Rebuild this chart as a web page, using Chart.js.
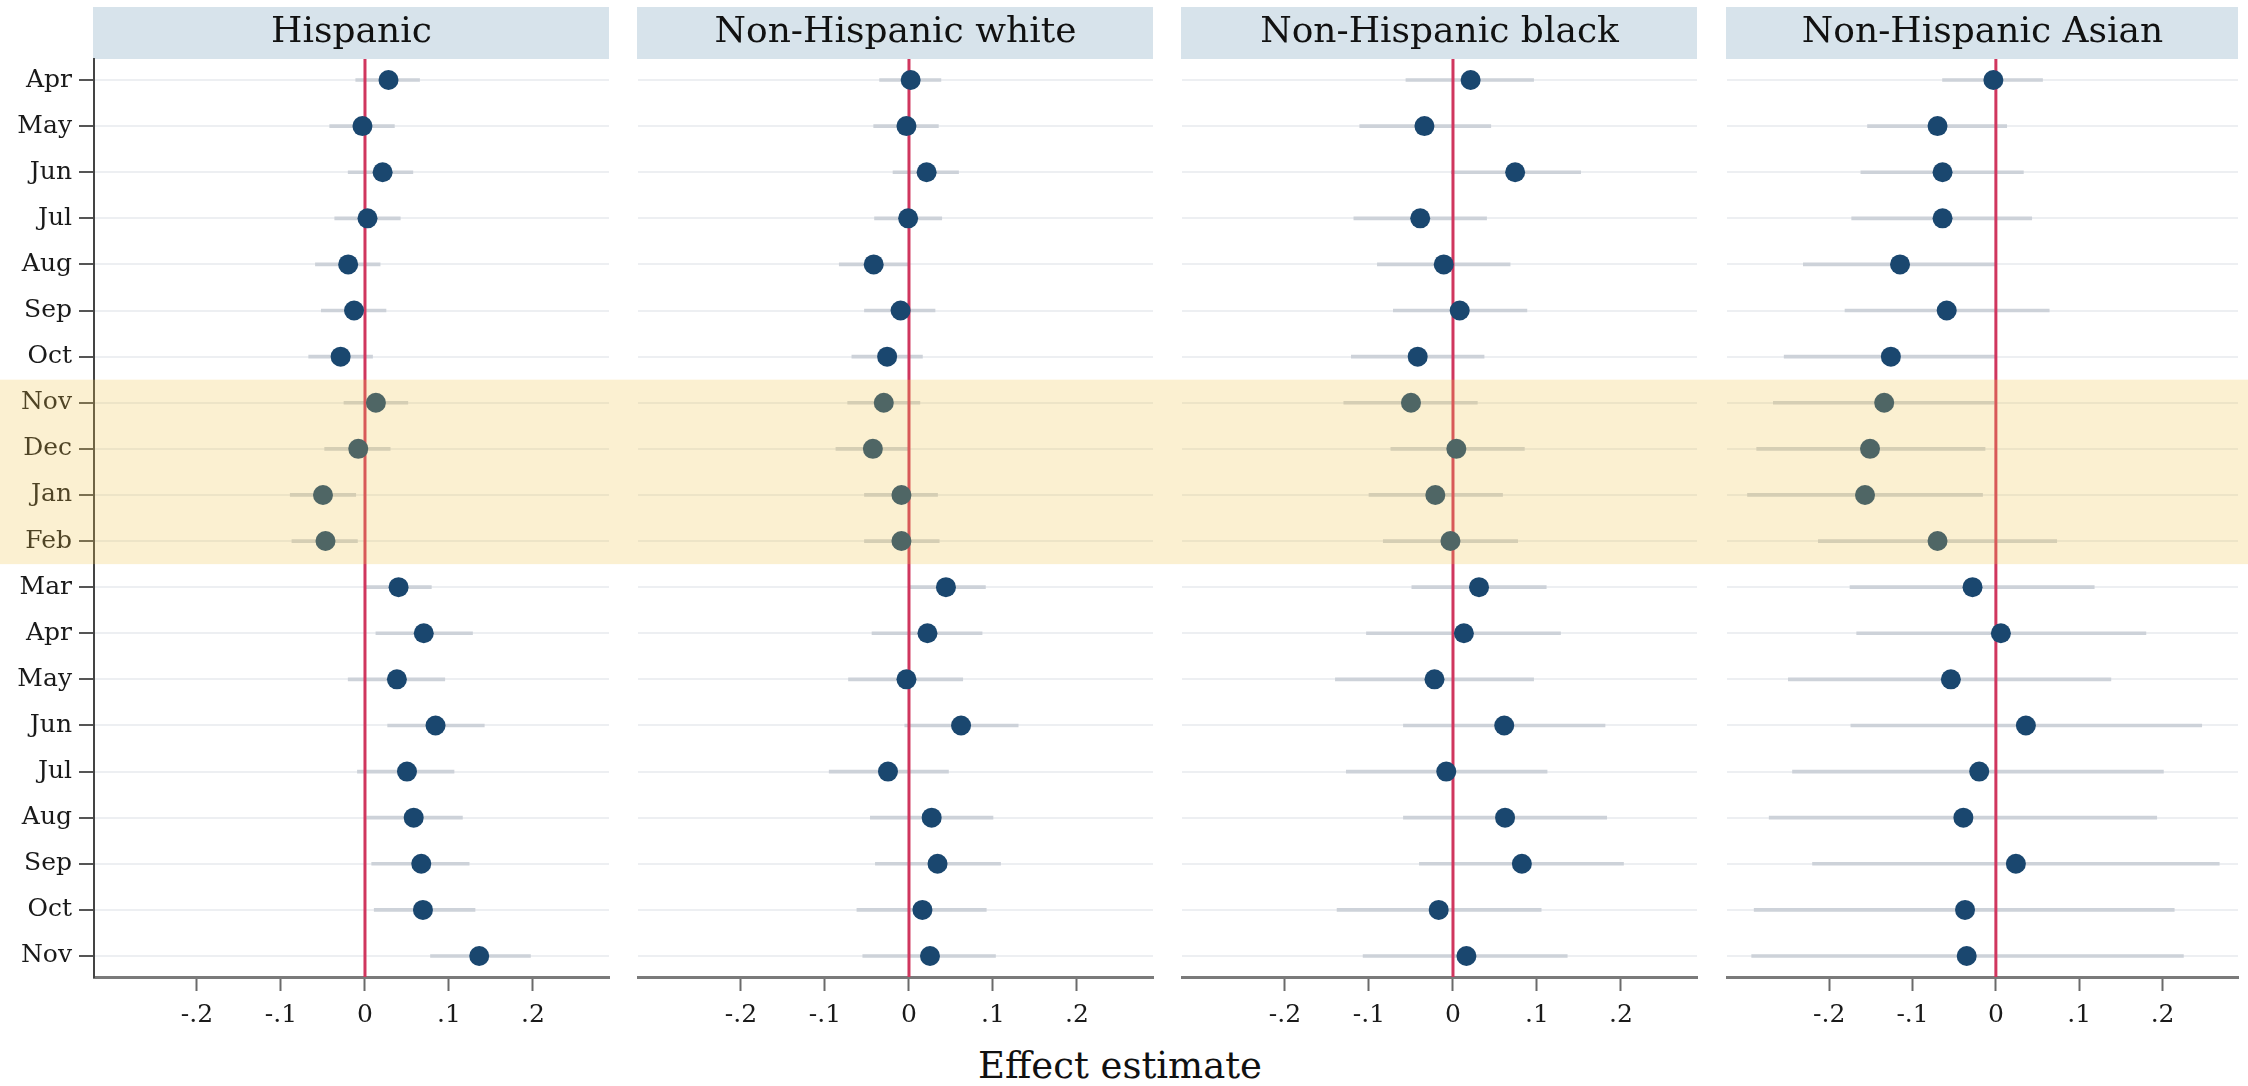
<!DOCTYPE html>
<html>
<head>
<meta charset="utf-8">
<script src="https://cdn.jsdelivr.net/npm/chart.js@4.4.1/dist/chart.umd.min.js"></script>
<style>
  body { margin: 0; background: #fff; width: 2248px; height: 1086px; overflow: hidden; position: relative; font-family: 'DejaVu Serif', serif; }
  canvas { position: absolute; top: 0; }
  #xtitle { position: absolute; left: 0; width: 2240px; top: 1043px; text-align: center; font-size: 37px; line-height: 46px; color: #111; }
</style>
</head>
<body>
<div id="xtitle">Effect estimate</div>
<script>
// months shown on the y axis (top to bottom)
const months = ['Apr','May','Jun','Jul','Aug','Sep','Oct','Nov','Dec','Jan','Feb','Mar','Apr','May','Jun','Jul','Aug','Sep','Oct','Nov'];
const groups = ['Hispanic', 'Non-Hispanic white', 'Non-Hispanic black', 'Non-Hispanic Asian'];

// shaded months (Nov..Feb)
const shadeFrom = 7;
const shadeTo = 10;

// x axis ticks
const xTickVals = [-0.2, -0.1, 0, 0.1, 0.2];
const xTickLabels = ['-.2', '-.1', '0', '.1', '.2'];

// Hispanic
const hispEst = [0.028, -0.003, 0.021, 0.003, -0.020, -0.013, -0.029, 0.013, -0.008, -0.050, -0.047, 0.040, 0.070, 0.038, 0.084, 0.050, 0.058, 0.067, 0.069, 0.136];
const hispLo  = [-0.011, -0.042, -0.020, -0.036, -0.059, -0.052, -0.067, -0.025, -0.048, -0.089, -0.087, 0.001, 0.013, -0.020, 0.027, -0.009, 0.002, 0.008, 0.011, 0.078];
const hispHi  = [0.065, 0.035, 0.057, 0.042, 0.018, 0.025, 0.009, 0.051, 0.030, -0.011, -0.009, 0.079, 0.128, 0.095, 0.142, 0.106, 0.116, 0.124, 0.131, 0.197];

// Non-Hispanic white
const whiteEst = [0.002, -0.003, 0.021, -0.001, -0.042, -0.010, -0.026, -0.030, -0.043, -0.009, -0.009, 0.044, 0.022, -0.003, 0.062, -0.025, 0.027, 0.034, 0.016, 0.025];
const whiteLo  = [-0.035, -0.042, -0.019, -0.041, -0.083, -0.053, -0.068, -0.073, -0.087, -0.053, -0.053, 0.000, -0.044, -0.072, -0.005, -0.095, -0.046, -0.040, -0.062, -0.055];
const whiteHi  = [0.038, 0.035, 0.059, 0.039, -0.001, 0.031, 0.016, 0.013, 0.000, 0.034, 0.036, 0.091, 0.087, 0.064, 0.130, 0.047, 0.100, 0.109, 0.092, 0.103];

// Non-Hispanic black
const blackEst = [0.021, -0.034, 0.074, -0.039, -0.011, 0.008, -0.042, -0.050, 0.004, -0.021, -0.003, 0.031, 0.013, -0.022, 0.061, -0.008, 0.062, 0.082, -0.017, 0.016];
const blackLo  = [-0.056, -0.111, -0.002, -0.118, -0.090, -0.071, -0.121, -0.130, -0.074, -0.100, -0.083, -0.049, -0.103, -0.140, -0.059, -0.127, -0.059, -0.040, -0.138, -0.107];
const blackHi  = [0.096, 0.045, 0.152, 0.040, 0.068, 0.088, 0.037, 0.029, 0.085, 0.059, 0.077, 0.111, 0.128, 0.096, 0.181, 0.112, 0.183, 0.203, 0.105, 0.136];

// Non-Hispanic Asian
const asianEst = [-0.003, -0.070, -0.064, -0.064, -0.115, -0.059, -0.126, -0.134, -0.151, -0.157, -0.070, -0.028, 0.006, -0.054, 0.036, -0.020, -0.039, 0.024, -0.037, -0.035];
const asianLo  = [-0.064, -0.154, -0.162, -0.173, -0.231, -0.181, -0.254, -0.267, -0.287, -0.298, -0.213, -0.175, -0.167, -0.249, -0.174, -0.244, -0.272, -0.220, -0.290, -0.293];
const asianHi  = [0.056, 0.013, 0.033, 0.043, 0.000, 0.064, 0.000, -0.002, -0.013, -0.016, 0.073, 0.118, 0.180, 0.138, 0.247, 0.201, 0.193, 0.268, 0.214, 0.225];

const estimates = [hispEst, whiteEst, blackEst, asianEst];
const lows = [hispLo, whiteLo, blackLo, asianLo];
const highs = [hispHi, whiteHi, blackHi, asianHi];

// layout
const canvasEdges = [0, 623, 1168, 1712, 2248];
const plotLeft = [94, 638, 1182, 1727];
const plotW = 515;
const xMin = -0.3226, xMax = 0.2905;
const yMin = -0.4555, yMax = 19.4555;

const FONT = "'DejaVu Serif', serif";
const navy = '#1a476f';
const zeroRed = '#d0365e';
const ciColor = '#cdd2d9';
const gridColor = '#edeff2';
const headerFill = '#d7e3eb';
const shadeColor = 'rgba(240, 195, 70, 0.25)';

const panelDecor = {
    id: 'panelDecor',
    beforeDraw(chart, args, opts) {
        const a = chart.chartArea;
        const ctx = chart.ctx;
        ctx.save();
        ctx.fillStyle = headerFill;
        ctx.fillRect(a.left - 1, a.top - 52, a.right - a.left + 1, 52);
        ctx.fillStyle = '#111';
        ctx.font = '36px ' + FONT;
        ctx.textAlign = 'center';
        ctx.textBaseline = 'middle';
        ctx.fillText(opts.title, (a.left + a.right) / 2, a.top - 26);
        ctx.restore();
    },
    afterDraw(chart) {
        // semi-transparent band over the winter months
        const ys = chart.scales.y;
        const top = ys.getPixelForValue(shadeFrom - 0.5);
        const bot = ys.getPixelForValue(shadeTo + 0.5);
        const ctx = chart.ctx;
        ctx.save();
        ctx.fillStyle = shadeColor;
        ctx.fillRect(0, top, chart.width, bot - top);
        ctx.restore();
    }
};

function makePanel(i) {
    const cv = document.createElement('canvas');
    const left = canvasEdges[i];
    const width = canvasEdges[i + 1] - left;
    cv.width = width;
    cv.height = 1086;
    cv.style.left = left + 'px';
    cv.style.width = width + 'px';
    cv.style.height = '1086px';
    document.body.appendChild(cv);

    const first = i === 0;
    const padLeft = first ? 0 : plotLeft[i] - left;
    const padRight = width - (plotLeft[i] - left) - plotW;

    new Chart(cv, {
        type: 'scatter',
        data: {
            datasets: [
                {
                    type: 'scatter',
                    data: estimates[i].map((v, k) => ({ x: v, y: k })),
                    pointRadius: 10,
                    pointHoverRadius: 10,
                    backgroundColor: navy,
                    borderWidth: 0,
                    order: 1
                },
                {
                    type: 'line',
                    data: [{ x: 0, y: yMin }, { x: 0, y: yMax }],
                    borderColor: zeroRed,
                    borderWidth: 3,
                    pointRadius: 0,
                    order: 2
                },
                {
                    type: 'bar',
                    indexAxis: 'y',
                    data: lows[i].map((lo, k) => ({ y: k, x: [lo, highs[i][k]] })),
                    backgroundColor: ciColor,
                    borderWidth: 0,
                    barThickness: 3,
                    order: 3
                }
            ]
        },
        options: {
            responsive: false,
            devicePixelRatio: 1,
            animation: false,
            layout: { padding: { top: 59, left: padLeft, right: padRight, bottom: 0 } },
            plugins: {
                legend: { display: false },
                tooltip: { enabled: false },
                panelDecor: { title: groups[i] }
            },
            scales: {
                x: {
                    type: 'linear',
                    min: xMin,
                    max: xMax,
                    offset: false,
                    afterBuildTicks: s => { s.ticks = xTickVals.map(v => ({ value: v })); },
                    afterFit: s => { s.height = 109; },
                    grid: { offset: false, drawOnChartArea: false, drawTicks: true, tickLength: 14, tickWidth: 2, tickColor: '#6a6a6a' },
                    border: { display: true, color: '#7a7a7a', width: 3 },
                    ticks: {
                        callback: (v, idx) => xTickLabels[idx],
                        font: { family: FONT, size: 25 },
                        color: '#1a1a1a',
                        padding: 9,
                        maxRotation: 0,
                        autoSkip: false
                    }
                },
                y: {
                    type: 'linear',
                    min: yMin,
                    max: yMax,
                    reverse: true,
                    offset: false,
                    afterBuildTicks: s => { s.ticks = months.map((m, k) => ({ value: k })); },
                    afterFit: s => { s.width = first ? 94 : 0; },
                    grid: { offset: false, color: gridColor, lineWidth: 2, drawTicks: first, tickLength: 15, tickWidth: 2, tickColor: '#555' },
                    border: { display: first, color: '#444', width: 2 },
                    ticks: {
                        display: first,
                        callback: v => months[v],
                        font: { family: FONT, size: 25 },
                        color: '#1a1a1a',
                        padding: 7,
                        autoSkip: false
                    }
                }
            }
        },
        plugins: [panelDecor]
    });
}

document.addEventListener('DOMContentLoaded', function() {
    for (let i = 0; i < groups.length; i++) makePanel(i);
});
</script>
</body>
</html>
